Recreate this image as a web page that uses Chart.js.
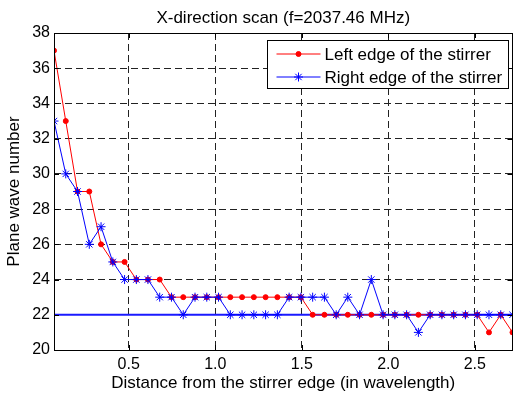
<!DOCTYPE html>
<html>
<head>
<meta charset="utf-8">
<script src="https://cdn.jsdelivr.net/npm/chart.js@4.4.1/dist/chart.umd.min.js"></script>
<style>
  html, body { margin: 0; padding: 0; background: #fff; }
  #wrap { width: 518px; height: 396px; }
</style>
</head>
<body>
<div id="wrap"><canvas id="scanChart"></canvas></div>
<script>
// distance from stirrer edge, in wavelengths (1 cm steps at 2037.46 MHz)
const distance = [0.068, 0.136, 0.204, 0.272, 0.340, 0.408, 0.476, 0.544, 0.611, 0.679,
                  0.747, 0.815, 0.883, 0.951, 1.019, 1.087, 1.155, 1.223, 1.291, 1.359,
                  1.427, 1.495, 1.563, 1.631, 1.699, 1.766, 1.834, 1.902, 1.970, 2.038,
                  2.106, 2.174, 2.242, 2.310, 2.378, 2.446, 2.514, 2.582, 2.650, 2.718];
const leftEdge  = [37, 33, 29, 29, 26, 25, 25, 24, 24, 24,
                   23, 23, 23, 23, 23, 23, 23, 23, 23, 23,
                   23, 23, 22, 22, 22, 22, 22, 22, 22, 22,
                   22, 22, 22, 22, 22, 22, 22, 21, 22, 21];
const rightEdge = [33, 30, 29, 26, 27, 25, 24, 24, 24, 23,
                   23, 22, 23, 23, 23, 22, 22, 22, 22, 22,
                   23, 23, 23, 23, 22, 23, 22, 24, 22, 22,
                   22, 21, 22, 22, 22, 22, 22, 22, 22, 22];
const refLevel = 22;
const xTicks = [0.5, 1, 1.5, 2, 2.5];
const yTicks = [20, 22, 24, 26, 28, 30, 32, 34, 36, 38];
const chartTitle = 'X-direction scan (f=2037.46 MHz)';

const FONT = "'Liberation Sans', Arial, sans-serif";

const toPoints = (ys) => ys.map((y, i) => ({ x: distance[i], y: y }));

// MATLAB-style frame, inner tick marks, title over the axes and legend inside them
const framePlugin = {
    id: 'frame',
    afterDraw(chart) {
        const ctx = chart.ctx;
        const a = chart.chartArea;
        const xs = chart.scales.x, ys = chart.scales.y;
        ctx.save();
        ctx.strokeStyle = '#000';
        ctx.lineWidth = 1;
        ctx.setLineDash([]);
        ctx.strokeRect(Math.round(a.left) + 0.5, Math.round(a.top) + 0.5,
                       Math.round(a.right - a.left) - 1, Math.round(a.bottom - a.top));
        ctx.beginPath();
        xTicks.forEach(t => {
            const px = Math.round(xs.getPixelForValue(t)) + 0.5;
            ctx.moveTo(px, a.bottom); ctx.lineTo(px, a.bottom - 5);
            ctx.moveTo(px, a.top); ctx.lineTo(px, a.top + 5);
        });
        yTicks.forEach(t => {
            const py = Math.round(ys.getPixelForValue(t)) + 0.5;
            ctx.moveTo(a.left, py); ctx.lineTo(a.left + 5, py);
            ctx.moveTo(a.right, py); ctx.lineTo(a.right - 5, py);
        });
        ctx.stroke();

        // title centred over the plot area
        ctx.fillStyle = '#000';
        ctx.font = '17px ' + FONT;
        ctx.textAlign = 'center';
        ctx.textBaseline = 'alphabetic';
        ctx.fillText(chartTitle, (a.left + a.right) / 2, 22.7);

        // legend box
        const bx = 267.5, by = 40.5, bw = 241, bh = 48;
        ctx.fillStyle = '#fff';
        ctx.fillRect(bx, by, bw, bh);
        ctx.strokeRect(bx, by, bw, bh);
        ctx.textAlign = 'left';
        ctx.textBaseline = 'middle';
        [0, 1].forEach(i => {
            const ds = chart.data.datasets[i];
            const y = by + 13.5 + i * 23;
            ctx.strokeStyle = ds.borderColor;
            ctx.lineWidth = 1;
            ctx.beginPath();
            ctx.moveTo(bx + 9, y); ctx.lineTo(bx + 53, y);
            ctx.stroke();
            ctx.fillStyle = ds.pointBackgroundColor;
            Chart.helpers.drawPoint(ctx, {
                pointStyle: ds.pointStyle, radius: ds.pointRadius,
                borderWidth: ds.pointBorderWidth, rotation: 0
            }, bx + 31, y);
            ctx.fillStyle = '#000';
            ctx.fillText(ds.label, bx + 57, y + 1);
        });
        ctx.restore();
    }
};

new Chart(document.getElementById('scanChart').getContext('2d'), {
    type: 'line',
    data: {
        datasets: [{
            label: 'Left edge of the stirrer',
            data: toPoints(leftEdge),
            borderColor: '#ff0000',
            backgroundColor: '#ff0000',
            pointBackgroundColor: '#ff0000',
            pointBorderColor: '#ff0000',
            pointStyle: 'circle',
            pointRadius: 2.5,
            pointBorderWidth: 1,
            borderWidth: 1,
            order: 1
        }, {
            label: 'Right edge of the stirrer',
            data: toPoints(rightEdge),
            borderColor: '#0000ff',
            backgroundColor: '#0000ff',
            pointBackgroundColor: '#0000ff',
            pointBorderColor: '#0000ff',
            pointStyle: 'star',
            pointRadius: 4.5,
            pointBorderWidth: 1,
            borderWidth: 1,
            order: 0
        }, {
            label: 'ref',
            data: [{ x: distance[0], y: refLevel }, { x: distance[distance.length - 1], y: refLevel }],
            borderColor: '#1a1aff',
            borderWidth: 2,
            pointRadius: 0,
            order: 2
        }]
    },
    options: {
        responsive: true,
        maintainAspectRatio: false,
        animation: false,
        layout: { padding: { left: 0, right: 2, top: 33, bottom: 0 } },
        plugins: {
            legend: { display: false },
            tooltip: { enabled: false },
            title: { display: false }
        },
        scales: {
            x: {
                type: 'linear',
                min: distance[0],
                max: distance[distance.length - 1],
                afterBuildTicks: (s) => { s.ticks = xTicks.map(v => ({ value: v })); },
                afterFit: (s) => { s.height = 46; },
                grid: { color: '#222', lineWidth: 1, drawTicks: false },
                border: { display: false, dash: [7, 4] },
                ticks: { color: '#000', padding: 5, maxRotation: 0,
                         font: { family: FONT, size: 16 } },
                title: { display: true, text: 'Distance from the stirrer edge (in wavelength)',
                         color: '#000', font: { family: FONT, size: 17 },
                         padding: { top: 0, bottom: 2 } }
            },
            y: {
                type: 'linear',
                min: 20,
                max: 38,
                afterBuildTicks: (s) => { s.ticks = yTicks.map(v => ({ value: v })); },
                afterFit: (s) => { s.width = 54; },
                grid: { color: '#222', lineWidth: 1, drawTicks: false },
                border: { display: false, dash: [7, 4] },
                ticks: { color: '#000', padding: 4, font: { family: FONT, size: 16 } },
                title: { display: true, text: 'Plane wave number', color: '#000',
                         font: { family: FONT, size: 17 }, padding: { top: 4, bottom: 4 } }
            }
        }
    },
    plugins: [framePlugin]
});
</script>
</body>
</html>
